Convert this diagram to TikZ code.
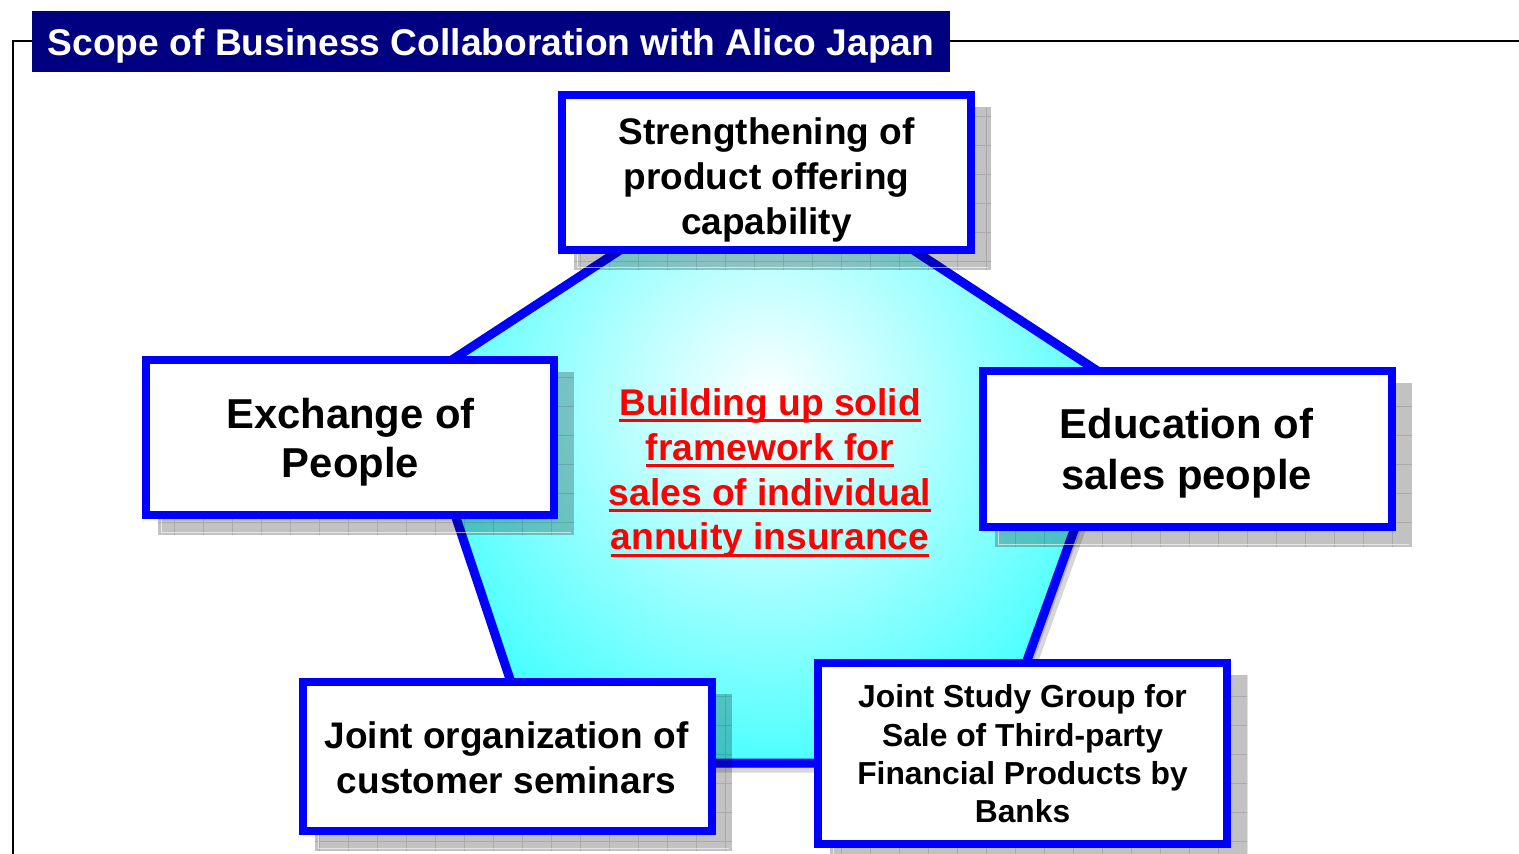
\documentclass[tikz,border=0pt]{standalone}
\usepackage{fontspec}
\setmainfont{Liberation Sans}
\definecolor{titleblue}{RGB}{0,0,128}
\definecolor{boxblue}{RGB}{0,0,255}
\definecolor{pentcyan}{RGB}{20,255,255}
\newlength\ulw
\newcommand\redul[1]{\settowidth\ulw{#1}\rlap{\rule[-3.5pt]{\ulw}{1.5pt}}#1}
\pgfdeclarelayer{bglayer}
\pgfdeclarelayer{shadlayer}
\pgfsetlayers{bglayer,shadlayer,main}
\tikzset{
  boxnode/.style={draw=boxblue, line width=4pt, fill=white, minimum width=204.5pt, inner sep=0pt},
  boxtext/.style={align=center, inner sep=0pt, text=black},
  shadowfill/.style={fill=black, fill opacity=0.24},
  shadowgrid/.style={draw=black, draw opacity=0.12, line width=0.4pt},
  shadowedge/.style={draw=white, draw opacity=0.6, line width=0.5pt},
}
\newcommand\shadowof[1]{%
  \fill[shadowfill] ([shift={(16,16)}]#1.north west) rectangle ([shift={(16,16)}]#1.south east);
  \draw[shadowgrid, step=14.5pt] ([shift={(16,16)}]#1.south west) grid ([shift={(16,16)}]#1.north east);
  \draw[shadowedge] ([shift={(19,13)}]#1.south west) -- ([shift={(19,19)}]#1.north west) ([shift={(19,13)}]#1.south west) -- ([shift={(13,13)}]#1.south east);
}
\def\pentpath{(767,154) -- (1125,389) -- (990,763) -- (538,763) -- (412,386) -- cycle}
\begin{document}
\begin{tikzpicture}[x=0.5pt, y=-0.5pt]
\useasboundingbox (0,0) rectangle (1519,853);

% frame line
\draw[black, line width=1pt] (13,870) -- (13,40.5) -- (1530,40.5);

% boxes
\node[boxnode, minimum height=77.5pt] (top) at (766.5,172.5) {};
\node[boxnode, minimum width=204pt, minimum height=77.5pt] (exch) at (350,437.5) {};
\node[boxnode, minimum height=78pt] (edu) at (1187.5,449) {};
\node[boxnode, minimum height=74.5pt] (jorg) at (507.5,756.5) {};
\node[boxnode, minimum height=90.5pt] (jstudy) at (1022.5,753.5) {};

% texts
\node[boxtext, font=\fontsize{18.5pt}{22.5pt}\selectfont\bfseries] (topT) at (766.5,179.5) {Strengthening of\\product offering\\capability};
\node[boxtext, font=\fontsize{20.9pt}{24.5pt}\selectfont\bfseries] (exchT) at (350.5,442.6) {Exchange of\\People};
\node[boxtext, font=\fontsize{20.9pt}{25.5pt}\selectfont\bfseries] (eduT) at (1186.5,453.6) {Education of\\sales people};
\node[boxtext, font=\fontsize{18.5pt}{22.5pt}\selectfont\bfseries] (jorgT) at (506.5,757.5) {Joint organization of\\customer seminars};
\node[boxtext, font=\fontsize{15.9pt}{19.2pt}\selectfont\bfseries] (jstudyT) at (1022.5,754) {Joint Study Group for\\Sale of Third-party\\Financial Products by\\Banks};
\node[boxtext, text=red, font=\fontsize{18.6pt}{22.4pt}\selectfont\bfseries] (core) at (770,473) {\redul{Building up solid}\\\redul{framework for}\\\redul{sales of individual}\\\redul{annuity insurance}};

% title
\node[fill=titleblue, minimum width=459pt, minimum height=30.5pt, inner sep=0pt] (title) at (491,41.5) {};
\node[text=white, inner sep=0pt, anchor=base, font=\fontsize{18.6pt}{22pt}\selectfont\bfseries] (titleT) at (491,55) {Scope of Business Collaboration with Alico Japan};

% shadows
\begin{pgfonlayer}{shadlayer}
\shadowof{top}
\shadowof{exch}
\shadowof{edu}
\shadowof{jorg}
\shadowof{jstudy}
\end{pgfonlayer}

% pentagon
\begin{pgfonlayer}{bglayer}
\filldraw[fill=black, draw=black, fill opacity=0.16, draw opacity=0.16, line width=4.5pt, line join=miter, shift={(5,5)}] \pentpath;
\fill[pentcyan] \pentpath;
\begin{scope}
\clip \pentpath;
\shade[inner color=white, outer color=pentcyan] (768,400) circle (480);
\end{scope}
\draw[boxblue, line width=4.5pt, line join=miter] \pentpath;
\end{pgfonlayer}
\end{tikzpicture}
\end{document}
